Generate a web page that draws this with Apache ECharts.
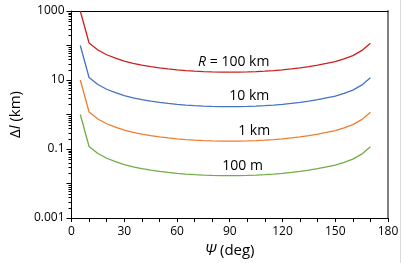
<!DOCTYPE html>
<html><head><meta charset="utf-8">
<script src="https://cdn.jsdelivr.net/npm/echarts@6/dist/echarts.min.js"></script>
<style>html,body{margin:0;padding:0;background:#fff}#c{width:402px;height:263px}</style>
</head><body><div id="c"></div>
<script>
// Angle Psi (deg)
const angles = [5,10,15,20,25,30,35,40,45,50,55,60,65,70,75,80,85,90,95,100,105,110,115,120,125,130,135,140,145,150,155,160,165,170];
// Delta l (km) for each R
const r100km = [1000,118,74,54,43,35.5,30.5,27,24.4,22.4,20.9,19.7,18.8,18.1,17.6,17.2,17.0,16.9,17.0,17.2,17.6,18.1,18.8,19.7,20.9,22.4,24.4,27,30.5,34,41,51,71,116];
const r10km = [100,11.8,7.4,5.4,4.3,3.55,3.05,2.7,2.44,2.24,2.09,1.97,1.88,1.81,1.76,1.72,1.70,1.69,1.70,1.72,1.76,1.81,1.88,1.97,2.09,2.24,2.44,2.7,3.05,3.4,4.1,5.1,7.1,11.6];
const r1km = [10,1.18,0.74,0.54,0.43,0.355,0.305,0.27,0.244,0.224,0.209,0.197,0.188,0.181,0.176,0.172,0.170,0.169,0.170,0.172,0.176,0.181,0.188,0.197,0.209,0.224,0.244,0.27,0.305,0.34,0.41,0.51,0.71,1.16];
const r100m = [1.0,0.118,0.074,0.054,0.043,0.0355,0.0305,0.027,0.0244,0.0224,0.0209,0.0197,0.0188,0.0181,0.0176,0.0172,0.0170,0.0169,0.0170,0.0172,0.0176,0.0181,0.0188,0.0197,0.0209,0.0224,0.0244,0.027,0.0305,0.034,0.041,0.051,0.071,0.116];
const seriesLabels = ['{i|R} = 100 km','10 km','1 km','100 m'];
const labelAt = [17, 19, 20, 18];           // data index carrying each curve label
const xTickLabels = ['0','30','60','90','120','150','180'];
const yTickLabels = ['0.001','0.01','0.1','1','10','100','1000'];

const FONT = 'Open Sans';
const colors = ['#C9211E','#4472C4','#ED7D31','#70AD47'];
const allSeries = [r100km, r10km, r1km, r100m];
const labelOffsets = [[4,0],[2,0],[-2,0],[4,0]];

const minorTickValues = [];
for (let e = -3; e < 3; e++) for (let m = 2; m <= 9; m++) minorTickValues.push(m * Math.pow(10, e));

const chart = echarts.init(document.getElementById('c'), null, {renderer:'canvas'});
const lineSeries = allSeries.map((vals, k) => ({
  type: 'line',
  name: seriesLabels[k],
  data: angles.map((a, i) => [a, vals[i]]),
  symbol: 'none',
  lineStyle: {color: colors[k], width: 1.3},
  itemStyle: {color: colors[k]},
  silent: true,
  z: 3,
  markPoint: {
    silent: true,
    symbol: 'circle', symbolSize: 0,
    data: [{coord: [angles[labelAt[k]], vals[labelAt[k]]]}],
    label: {
      show: true, position: 'top', distance: 3, offset: labelOffsets[k],
      formatter: seriesLabels[k],
      fontFamily: FONT, fontSize: 14, color: '#000',
      rich: {i: {fontStyle: 'italic', fontFamily: FONT, fontSize: 14, color: '#000'}}
    }
  }
}));

chart.setOption({
  animation: false,
  backgroundColor: '#fff',
  grid: {left: 58, right: 14, top: 11, bottom: 45},
  xAxis: [{
    type: 'value', min: 0, max: 180, interval: 10,
    name: '{i|Ψ} (deg)', nameLocation: 'middle', nameGap: 23,
    nameTextStyle: {fontFamily: FONT, fontSize: 15, color: '#000',
      rich: {i: {fontStyle: 'italic', fontFamily: FONT, fontSize: 15, color: '#000'}}},
    axisLine: {show: true, onZero: false, lineStyle: {color: '#000', width: 1}},
    axisTick: {show: true, length: 4, lineStyle: {color: '#000'}},
    axisLabel: {margin: 8, fontFamily: FONT, fontSize: 12, color: '#000',
      formatter: v => (v % 30 === 0 ? xTickLabels[v / 30] : '')},
    splitLine: {show: false}
  }, {
    type: 'value', min: 0, max: 180, position: 'top',
    axisLine: {show: true, onZero: false, lineStyle: {color: '#000', width: 1}},
    axisTick: {show: false}, axisLabel: {show: false}, splitLine: {show: false}
  }],
  yAxis: [{
    type: 'log', logBase: 10, min: 0.001, max: 1000, splitNumber: 6,
    name: '{d|Δ}{i|l} (km)', nameLocation: 'middle', nameGap: 37,
    nameTextStyle: {fontFamily: FONT, fontSize: 15, color: '#000',
      rich: {d: {fontFamily: FONT, fontSize: 15, color: '#000'},
             i: {fontStyle: 'italic', fontFamily: FONT, fontSize: 15, color: '#000'}}},
    axisLine: {show: true, onZero: false, lineStyle: {color: '#000', width: 1}},
    axisTick: {show: true, length: 5, lineStyle: {color: '#000'}},
    axisLabel: {margin: 7, fontFamily: FONT, fontSize: 12, color: '#000',
      formatter: v => { const e = Math.round(Math.log10(v)); return (e % 2 !== 0) ? yTickLabels[e + 3] : ''; }},
    splitLine: {show: false}
  }, {
    type: 'log', logBase: 10, min: 0.001, max: 1000, position: 'right',
    axisLine: {show: true, onZero: false, lineStyle: {color: '#7f7f7f', width: 2}},
    axisTick: {show: false}, axisLabel: {show: false}, splitLine: {show: false}
  }],
  graphic: [{type: 'line', shape: {x1: 400.5, y1: 0, x2: 400.5, y2: 263}, style: {stroke: '#dcdcdc', lineWidth: 1}, silent: true}],
  series: [{
    type: 'custom',
    silent: true,
    clip: false,
    data: minorTickValues.map(v => [0, v]),
    renderItem: (params, api) => {
      const p = api.coord([api.value(0), api.value(1)]);
      return {type: 'line', shape: {x1: p[0] - 3, y1: Math.round(p[1]) + 0.5, x2: p[0], y2: Math.round(p[1]) + 0.5},
              style: {stroke: '#000', lineWidth: 1}};
    },
    z: 2
  }].concat(lineSeries)
});
</script></body></html>
